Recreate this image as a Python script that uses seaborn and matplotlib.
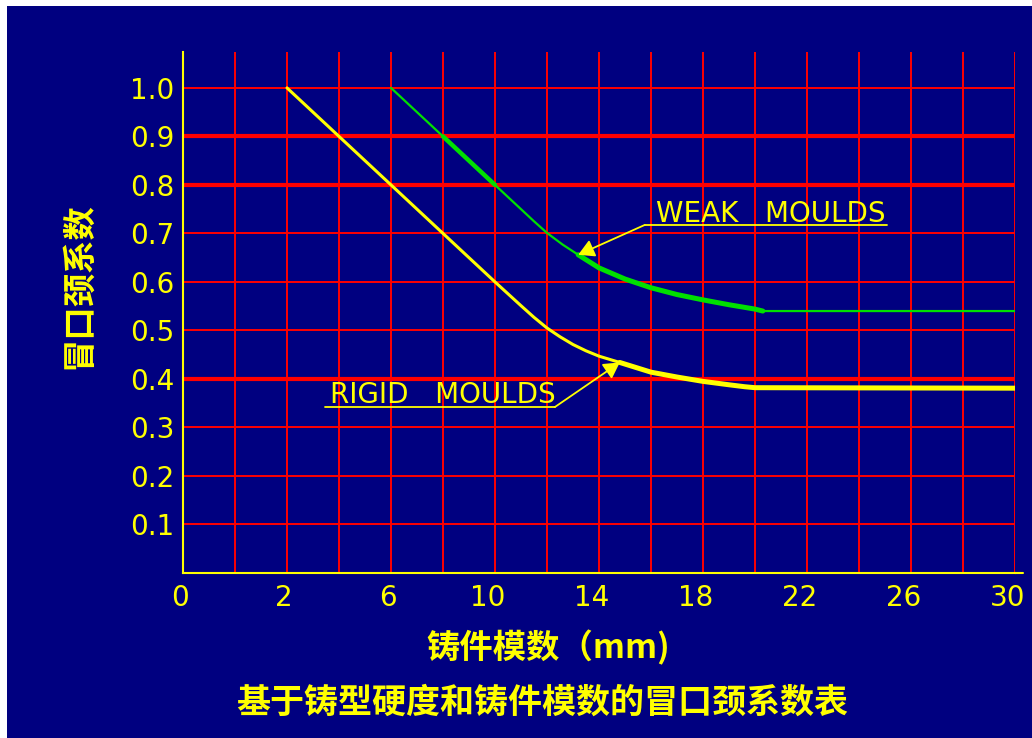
import numpy as np
import matplotlib
matplotlib.use("Agg")
import matplotlib.pyplot as plt
from matplotlib.patches import Rectangle
from matplotlib.transforms import ScaledTranslation
import seaborn as sns

# ---------------- data ----------------
tick_values = [0, 2, 6, 10, 14, 18, 22, 26, 30]          # x tick labels (mm)
tick_labels = [str(v) for v in tick_values]
y_ticks = [0.1, 0.2, 0.3, 0.4, 0.5, 0.6, 0.7, 0.8, 0.9, 1.0]
y_tick_labels = [f"{v:.1f}" for v in y_ticks]

rigid_mm = [2, 4, 6, 8, 10, 11, 11.5, 12, 12.5, 13, 13.5, 14, 14.8, 16, 17, 18, 19, 19.6, 20, 30]
rigid_k = [1.0, 0.9, 0.8, 0.7, 0.6, 0.551, 0.527, 0.505, 0.487, 0.471, 0.458, 0.447,
           0.434, 0.414, 0.404, 0.395, 0.388, 0.384, 0.382, 0.381]

weak_mm = [6, 8, 10, 11, 11.5, 12, 12.6, 13.2, 14, 15, 16, 17, 18, 19, 20, 20.3, 30]
weak_k = [1.0, 0.9, 0.8, 0.75, 0.725, 0.701, 0.677, 0.656, 0.629, 0.606, 0.588,
          0.574, 0.563, 0.553, 0.544, 0.540, 0.540]

weak_label = "WEAK   MOULDS"
rigid_label = "RIGID   MOULDS"
xlabel = "铸件模数（mm)"
ylabel = "冒口颈系数"
title = "基于铸型硬度和铸件模数的冒口颈系数表"

# ---------------- style ----------------
NAVY = "#000080"
RED = "#FF0000"
YEL = "#FFFF00"
GRN = "#00E000"
CJK = ["Noto Sans CJK SC", "DejaVu Sans"]

sns.set_style("dark")
plt.rcParams["font.family"] = ["DejaVu Sans"]

tick_pos = np.arange(0, 2 * len(tick_values), 2)  # chart's positional scale


def to_pos(mm):
    return np.interp(np.asarray(mm, dtype=float), tick_values, tick_pos)


fig = plt.figure(figsize=(10.32, 7.38), dpi=100, facecolor=NAVY)
# white border strips (top / left)
fig.patches.append(Rectangle((0, 1 - 6 / 738), 1, 6 / 738, transform=fig.transFigure,
                             facecolor="white", edgecolor="none", zorder=-1))
fig.patches.append(Rectangle((0, 0), 7 / 1032, 1, transform=fig.transFigure,
                             facecolor="white", edgecolor="none", zorder=-1))

ax = fig.add_axes([183 / 1032, (738 - 573) / 738, (1015 - 183) / 1032, (573 - 52) / 738])
ax.set_facecolor(NAVY)
ax.set_xlim(0, tick_pos[-1])
ax.set_ylim(0, 1.074)
ax.grid(False)

# grid
for xp in range(1, int(tick_pos[-1]) + 1):
    ax.axvline(xp, color=RED, lw=1.4, zorder=1)
for yv in y_ticks:
    thick = yv in (0.4, 0.8, 0.9)
    ax.hlines(yv, 0, tick_pos[-1], color=RED, lw=3.0 if thick else 1.4, zorder=1)

# curves
rx = to_pos(rigid_mm)
wx = to_pos(weak_mm)
rk = np.array(rigid_k)
wk = np.array(weak_k)

sns.lineplot(x=rx, y=rk, ax=ax, color=YEL, lw=2.2, legend=False, zorder=3, sort=False)
m = rx >= 8.3
sns.lineplot(x=rx[m], y=rk[m], ax=ax, color=YEL, lw=3.6, legend=False, zorder=3, sort=False)

sns.lineplot(x=wx, y=wk, ax=ax, color=GRN, lw=1.6, legend=False, zorder=3, sort=False)
m = (wx >= 7.5) & (wx <= 11.2)
sns.lineplot(x=wx[m], y=wk[m], ax=ax, color=GRN, lw=3.6, legend=False, zorder=3, sort=False)
m = (wx >= 5.0) & (wx <= 6.2)
sns.lineplot(x=wx[m], y=wk[m], ax=ax, color=GRN, lw=3.2, legend=False, zorder=3, sort=False)

# annotations
arrow = dict(arrowstyle="-|>,head_length=0.8,head_width=0.45", mutation_scale=12,
             color=YEL, lw=1.3, shrinkA=0, shrinkB=0)
iw = weak_mm.index(13.2)
w_tip = (float(wx[iw]), weak_k[iw])
ax.annotate("", xy=w_tip, xytext=(8.88, 0.7175), arrowprops=arrow, zorder=5)
ax.plot([8.88, 13.54], [0.7175, 0.7175], color=YEL, lw=1.3, zorder=5)
ax.text(9.1, 0.724, weak_label, color=YEL, fontsize=20, va="baseline", ha="left", zorder=5)

ir = rigid_mm.index(14.8)
r_tip = (float(rx[ir]), rigid_k[ir])
ax.annotate("", xy=r_tip, xytext=(7.15, 0.342), arrowprops=arrow, zorder=5)
ax.plot([2.73, 7.15], [0.342, 0.342], color=YEL, lw=1.3, zorder=5)
ax.text(2.83, 0.3505, rigid_label, color=YEL, fontsize=20, va="baseline", ha="left", zorder=5)

# axes / ticks
for s in ("top", "right"):
    ax.spines[s].set_visible(False)
for s in ("left", "bottom"):
    ax.spines[s].set_color(YEL)
    ax.spines[s].set_linewidth(1.5)
    ax.spines[s].set_zorder(4)
# bottom axis line runs a little past the last grid line
ax.plot([tick_pos[-1], tick_pos[-1] + 0.15], [0, 0], color=YEL, lw=1.5,
        clip_on=False, zorder=4)

ax.set_xticks(tick_pos, tick_labels)
ax.set_yticks(y_ticks, y_tick_labels)
ax.tick_params(axis="both", length=0, colors=YEL, labelsize=20)
ax.tick_params(axis="x", pad=8)
ax.tick_params(axis="y", pad=6)
for lab in ax.get_xticklabels():
    dx = -3 if len(lab.get_text()) == 1 else -7
    lab.set_transform(lab.get_transform() + ScaledTranslation(dx / 100, 0, fig.dpi_scale_trans))
ax.set_xlabel("")
ax.set_ylabel("")

fig.text(548 / 1032, 1 - 648 / 738, xlabel, family=CJK, fontsize=24, fontweight="bold",
         color=YEL, ha="center", va="center")
fig.text(542 / 1032, 1 - 702 / 738, title, family=CJK, fontsize=24.5, fontweight="bold",
         color=YEL, ha="center", va="center")
fig.text(79 / 1032, 1 - 286 / 738, ylabel, family=CJK, fontsize=24, fontweight="bold",
         color=YEL, ha="center", va="center", rotation=90)

fig.savefig("out.png", dpi=100, facecolor=NAVY)
